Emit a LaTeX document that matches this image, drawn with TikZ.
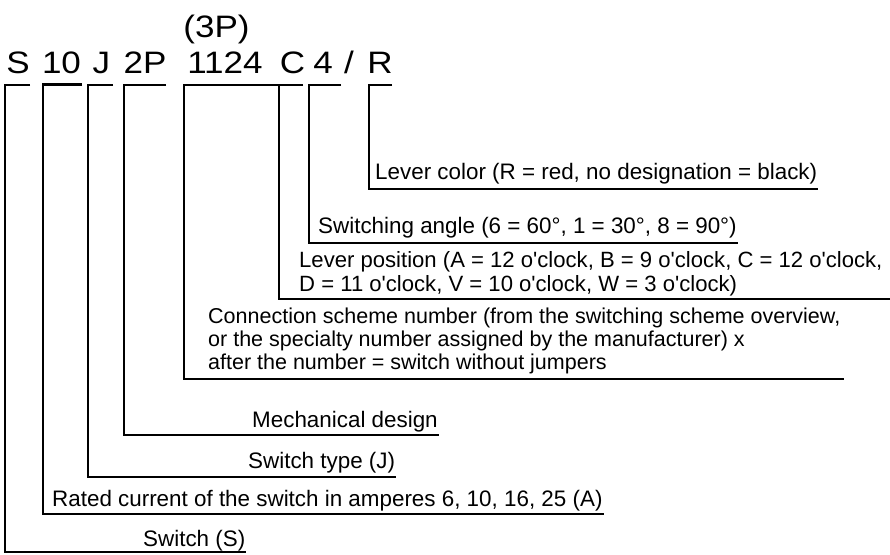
\documentclass[tikz,border=0pt]{standalone}
\usepackage{fontspec}
\setmainfont{Liberation Sans}
\newfontfamily\codefont{Liberation Sans}[FakeStretch=1.13]
\newcommand{\ap}{\textquotesingle}
\tikzset{
  br/.style={draw=black, line width=2.2pt},
  code/.style={inner sep=0pt, anchor=base, font=\codefont\fontsize{31}{36}\selectfont},
  desc/.style={inner sep=0pt, anchor=base west, font=\fontsize{22.4}{26}\selectfont},
  descs/.style={inner sep=0pt, anchor=base west, font=\fontsize{22.1}{26}\selectfont},
  descn/.style={inner sep=0pt, anchor=base west, font=\fontsize{21.5}{26}\selectfont}
}
\begin{document}
\begin{tikzpicture}[x=1pt,y=-1pt]
\useasboundingbox (0,0) rectangle (890,554);
% code tokens
\node[code] (p3) at (216.5,37) {(3P)};
\node[code] (tS) at (18,73.5) {S};
\node[code] (t10) at (61.5,73.5) {10};
\node[code] (tJ) at (101.5,73.5) {J};
\node[code] (t2P) at (145,73.5) {2P};
\node[code] (t1124) at (225,73.5) {1124};
\node[code] (tC) at (292.5,73.5) {C};
\node[code] (t4) at (323,73.5) {4};
\node[code] (tsl) at (349,73.5) {/};
\node[code] (tR) at (380,73.5) {R};
% descriptions
\node[desc] (dR) at (375,179) {Lever color (R = red, no designation = black)};
\node[desc] (d4) at (318,233) {Switching angle (6 = 60°, 1 = 30°, 8 = 90°)};
\node[descs] (dCa) at (299,267) {Lever position (A = 12 o\ap clock, B = 9 o\ap clock, C = 12 o\ap clock,};
\node[descs] (dCb) at (299,291) {D = 11 o\ap clock, V = 10 o\ap clock, W = 3 o\ap clock)};
\node[descn] (dNa) at (208,323) {Connection scheme number (from the switching scheme overview,};
\node[descn] (dNb) at (208,346) {or the specialty number assigned by the manufacturer) x};
\node[descn] (dNc) at (208,369) {after the number = switch without jumpers};
\node[desc] (dM) at (252,427) {Mechanical design};
\node[desc] (dJ) at (248,468) {Switch type (J)};
\node[desc] (d10) at (52,506) {Rated current of the switch in amperes 6, 10, 16, 25 (A)};
\node[desc] (dS) at (143,546) {Switch (S)};
\coordinate (edge) at (890,299);
% brackets
\draw[br] (392,85) -- (369,85) -- (369,189) -- ([xshift=1pt]dR.east |- 0,189);
\draw[br] (341,85) -- (309,85) -- (309,243) -- ([xshift=1pt]d4.east |- 0,243);
\draw[br] (303,85) -- (279,85) -- (279,299) -- (edge);
\draw[br] (279,85) -- (184,85) -- (184,379) -- ([xshift=3pt]dNa.east |- 0,379);
\draw[br] (166,85) -- (124,85) -- (124,435) -- ([xshift=1pt]dM.east |- 0,435);
\draw[br] (113,85) -- (88,85) -- (88,477) -- ([xshift=1pt]dJ.east |- 0,477);
\draw[br] (82,84.5) -- (43,84.5) -- (43,514) -- ([xshift=1pt]d10.east |- 0,514);
\draw[br] (30,85) -- (5,85) -- (5,552) -- ([xshift=1pt]dS.east |- 0,552);
\end{tikzpicture}
\end{document}
